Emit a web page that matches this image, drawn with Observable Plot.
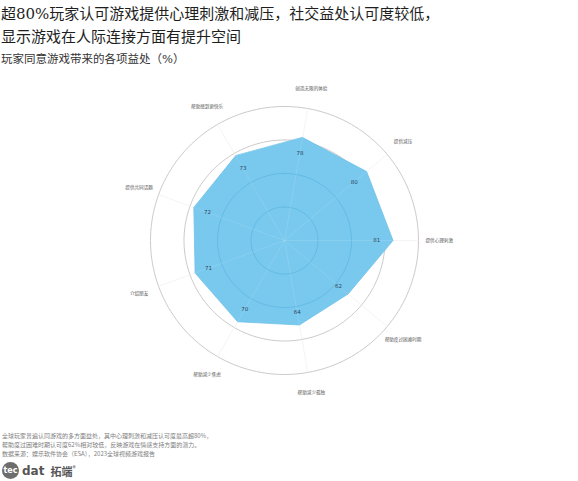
<!DOCTYPE html>
<html>
<head>
<meta charset="utf-8">
<script src="https://cdn.jsdelivr.net/npm/d3@7"></script>
<script src="https://cdn.jsdelivr.net/npm/@observablehq/plot@0.6"></script>
<style>
  html, body { margin: 0; padding: 0; background: #ffffff; width: 578px; height: 481px; overflow: hidden; }
  body { position: relative; font-family: "Noto Sans CJK SC", "Noto Sans", sans-serif; }
  #title { position: absolute; left: 1px; top: 3px; font-size: 15px; line-height: 23px; color: #1e1e1e; font-family: "DejaVu Serif", "Noto Sans CJK SC", serif; }
  #subtitle { position: absolute; left: 1px; top: 51px; font-size: 11.5px; line-height: 16px; color: #333; font-family: "DejaVu Serif", "Noto Sans CJK SC", serif; }
  #chart { position: absolute; left: 0; top: 70px; }
  #footer { position: absolute; left: 2px; top: 431px; font-size: 6px; line-height: 9px; color: #808080; }
  #logo { position: absolute; left: 2px; top: 462px; display: flex; align-items: center; gap: 3px; }
  #logo .mark { width: 17px; height: 17px; border-radius: 50%; background: #6d6d6d; color: #fff; font: bold 8px "DejaVu Sans", sans-serif; display: flex; align-items: center; justify-content: center; }
  #logo .t1 { font: bold 12px "DejaVu Sans", sans-serif; color: #555; }
  #logo .t2 { font: bold 11px "Noto Sans CJK SC", sans-serif; color: #555; margin-left: 3px; }
</style>
</head>
<body>
<div id="title">超80%玩家认可游戏提供心理刺激和减压，社交益处认可度较低，<br>显示游戏在人际连接方面有提升空间</div>
<div id="subtitle">玩家同意游戏带来的各项益处（%）</div>
<div id="chart"></div>
<div id="footer">全球玩家普遍认同游戏的多方面益处，其中心理刺激和减压认可度最高超80%，<br>帮助度过困难时期认可度62%相对较低，反映游戏在情感支持方面的潜力。<br>数据来源：娱乐软件协会（ESA），2023全球视频游戏报告</div>
<div id="logo"><div class="mark">tec</div><span class="t1">dat</span><span class="t2">拓端<sup style="font-size:6px">®</sup></span></div>
<script>
// ---- data ----
const categories = ["创造无限的体验", "提供减压", "提供心理刺激", "帮助度过困难时期", "帮助减少孤独", "帮助减少焦虑", "介绍朋友", "提供共同话题", "帮助感到更快乐"];
const values = [78, 80, 81, 62, 64, 70, 71, 72, 73];
const ringLevels = [25, 50, 75, 100];
const innerRingLevels = [25, 50];
const startAngle = 10; // degrees clockwise from top for the first category

// ---- derived table ----
const n = categories.length;
const angleOf = i => (startAngle + i * 360 / n) * Math.PI / 180;
const rows = categories.map((c, i) => ({category: c, value: values[i], a: angleOf(i)}));
const px = (r, a) => r * Math.sin(a);
const py = (r, a) => r * Math.cos(a);

const ringPoints = levels => levels.flatMap(level =>
  d3.range(0, 361, 2).map(deg => ({level, a: deg * Math.PI / 180}))
);

const k = 1.34; // pixels per unit
const W = 578, H = 360, cx = 284, cy = 170;

const chart = Plot.plot({
  width: W,
  height: H,
  margin: 0,
  x: {domain: [-cx / k, (W - cx) / k], axis: null},
  y: {domain: [-(H - cy) / k, cy / k], axis: null},
  style: {background: "transparent", overflow: "visible"},
  marks: [
    Plot.line(ringPoints(ringLevels), {x: d => px(d.level, d.a), y: d => py(d.level, d.a), z: "level", stroke: "#c6c3c3", strokeWidth: 0.9}),
    Plot.link(rows, {x1: 0, y1: 0, x2: d => px(100, d.a), y2: d => py(100, d.a), stroke: "#ececec", strokeWidth: 0.6}),
    Plot.line(rows, {x: d => px(d.value, d.a), y: d => py(d.value, d.a), curve: "linear-closed", fill: "#79c9ee", stroke: "#6fc2ea", strokeWidth: 0.8}),
    Plot.line(ringPoints(innerRingLevels), {x: d => px(d.level, d.a), y: d => py(d.level, d.a), z: "level", stroke: "#3f9fd2", strokeOpacity: 0.45, strokeWidth: 0.8}),
    Plot.link(rows, {x1: 0, y1: 0, x2: d => px(d.value, d.a), y2: d => py(d.value, d.a), stroke: "#ffffff", strokeOpacity: 0.18, strokeWidth: 0.6}),
    Plot.text(rows, {x: d => px(d.value * 0.85, d.a), y: d => py(d.value * 0.85, d.a), text: d => String(d.value), fill: "#2c4660", fontSize: 5.5, fontFamily: "DejaVu Sans"}),
    Plot.text(rows, {x: d => px(115.5, d.a), y: d => py(115.5, d.a), text: "category", fill: "#555", fontSize: 4.6, fontFamily: "Noto Sans CJK SC"})
  ]
});
document.getElementById("chart").appendChild(chart);
</script>
</body>
</html>
